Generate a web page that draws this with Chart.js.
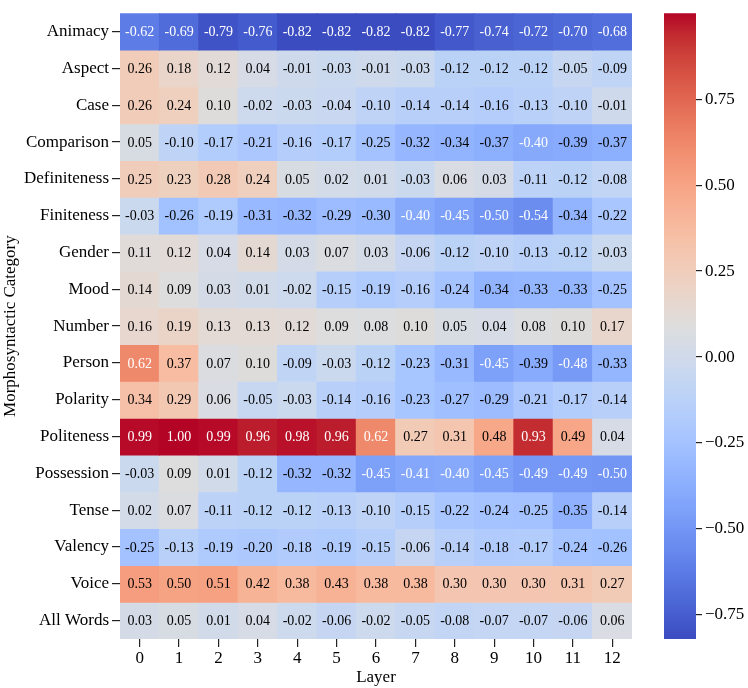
<!DOCTYPE html>
<html>
<head>
<meta charset="utf-8">
<script src="https://cdn.jsdelivr.net/npm/chart.js"></script>
<style>
  html, body { margin: 0; padding: 0; background: #fff; }
  #wrap { position: relative; width: 748px; height: 688px; }
  #heat { position: absolute; left: 0; top: 0; }
  #cbar { position: absolute; left: 640px; top: 0; }
</style>
</head>
<body>
<div id="wrap">
  <canvas id="heat" width="640" height="688"></canvas>
  <canvas id="cbar" width="108" height="688"></canvas>
</div>
<script>
// categories (rows) and layers (columns)
const categories = ['Animacy', 'Aspect', 'Case', 'Comparison', 'Definiteness', 'Finiteness', 'Gender', 'Mood',
  'Number', 'Person', 'Polarity', 'Politeness', 'Possession', 'Tense', 'Valency', 'Voice', 'All Words'];
const layers = ['0', '1', '2', '3', '4', '5', '6', '7', '8', '9', '10', '11', '12'];

// one row of values per category, layer 0..12
const animacy      = [-0.62, -0.69, -0.79, -0.76, -0.82, -0.82, -0.82, -0.82, -0.77, -0.74, -0.72, -0.70, -0.68];
const aspect       = [0.26, 0.18, 0.12, 0.04, -0.01, -0.03, -0.01, -0.03, -0.12, -0.12, -0.12, -0.05, -0.09];
const caseRow      = [0.26, 0.24, 0.10, -0.02, -0.03, -0.04, -0.10, -0.14, -0.14, -0.16, -0.13, -0.10, -0.01];
const comparison   = [0.05, -0.10, -0.17, -0.21, -0.16, -0.17, -0.25, -0.32, -0.34, -0.37, -0.40, -0.39, -0.37];
const definiteness = [0.25, 0.23, 0.28, 0.24, 0.05, 0.02, 0.01, -0.03, 0.06, 0.03, -0.11, -0.12, -0.08];
const finiteness   = [-0.03, -0.26, -0.19, -0.31, -0.32, -0.29, -0.30, -0.40, -0.45, -0.50, -0.54, -0.34, -0.22];
const gender       = [0.11, 0.12, 0.04, 0.14, 0.03, 0.07, 0.03, -0.06, -0.12, -0.10, -0.13, -0.12, -0.03];
const mood         = [0.14, 0.09, 0.03, 0.01, -0.02, -0.15, -0.19, -0.16, -0.24, -0.34, -0.33, -0.33, -0.25];
const number       = [0.16, 0.19, 0.13, 0.13, 0.12, 0.09, 0.08, 0.10, 0.05, 0.04, 0.08, 0.10, 0.17];
const person       = [0.62, 0.37, 0.07, 0.10, -0.09, -0.03, -0.12, -0.23, -0.31, -0.45, -0.39, -0.48, -0.33];
const polarity     = [0.34, 0.29, 0.06, -0.05, -0.03, -0.14, -0.16, -0.23, -0.27, -0.29, -0.21, -0.17, -0.14];
const politeness   = [0.99, 1.00, 0.99, 0.96, 0.98, 0.96, 0.62, 0.27, 0.31, 0.48, 0.93, 0.49, 0.04];
const possession   = [-0.03, 0.09, 0.01, -0.12, -0.32, -0.32, -0.45, -0.41, -0.40, -0.45, -0.49, -0.49, -0.50];
const tense        = [0.02, 0.07, -0.11, -0.12, -0.12, -0.13, -0.10, -0.15, -0.22, -0.24, -0.25, -0.35, -0.14];
const valency      = [-0.25, -0.13, -0.19, -0.20, -0.18, -0.19, -0.15, -0.06, -0.14, -0.18, -0.17, -0.24, -0.26];
const voice        = [0.53, 0.50, 0.51, 0.42, 0.38, 0.43, 0.38, 0.38, 0.30, 0.30, 0.30, 0.31, 0.27];
const allWords     = [0.03, 0.05, 0.01, 0.04, -0.02, -0.06, -0.02, -0.05, -0.08, -0.07, -0.07, -0.06, 0.06];

const rows = [animacy, aspect, caseRow, comparison, definiteness, finiteness, gender, mood,
  number, person, polarity, politeness, possession, tense, valency, voice, allWords];

const colorbarTicks = [-0.75, -0.5, -0.25, 0, 0.25, 0.5, 0.75];

// coolwarm palette (33 stops)
const coolwarm = [
  [59,76,192],[68,90,204],[77,104,215],[87,117,225],[98,130,234],[108,142,241],[119,154,247],[130,165,251],
  [141,176,254],[152,185,255],[163,194,255],[174,201,253],[184,208,249],[194,213,244],[204,217,238],[213,219,230],
  [221,221,221],[229,216,209],[236,211,197],[241,204,185],[245,196,173],[247,187,160],[247,177,148],[247,166,135],
  [244,154,123],[241,141,111],[236,127,99],[229,112,88],[222,96,77],[213,80,66],[203,62,56],[192,40,47],[180,4,38]
];

const allVals = rows.flat();
const vmin = Math.min(...allVals);
const vmax = Math.max(...allVals);

function rgbAt(t) {
  t = Math.max(0, Math.min(1, t)) * (coolwarm.length - 1);
  const i = Math.min(Math.floor(t), coolwarm.length - 2);
  const f = t - i;
  const a = coolwarm[i], b = coolwarm[i + 1];
  return [0, 1, 2].map(k => a[k] + (b[k] - a[k]) * f);
}
function colorFor(v) {
  const c = rgbAt((v - vmin) / (vmax - vmin));
  return 'rgb(' + c.map(Math.round).join(',') + ')';
}
function textColorFor(v) {
  const c = rgbAt((v - vmin) / (vmax - vmin)).map(x => {
    x = x / 255;
    return x <= 0.03928 ? x / 12.92 : Math.pow((x + 0.055) / 1.055, 2.4);
  });
  const lum = 0.2126 * c[0] + 0.7152 * c[1] + 0.0722 * c[2];
  return lum > 0.408 ? '#000' : '#fff';
}

const FONT = "'Liberation Serif', 'Times New Roman', serif";
Chart.defaults.font.family = FONT;
Chart.defaults.color = '#000';

// write the value in each cell
const cellText = {
  id: 'cellText',
  afterDatasetsDraw(chart) {
    const ctx = chart.ctx;
    ctx.save();
    ctx.font = '14px ' + FONT;
    ctx.textAlign = 'center';
    ctx.textBaseline = 'middle';
    chart.data.datasets.forEach((ds, r) => {
      chart.getDatasetMeta(r).data.forEach((bar, c) => {
        const v = rows[r][c];
        ctx.fillStyle = textColorFor(v);
        ctx.fillText(v.toFixed(2), bar.x, (bar.y + bar.base) / 2 + 1);
      });
    });
    ctx.restore();
  }
};

new Chart(document.getElementById('heat'), {
  type: 'bar',
  data: {
    labels: layers,
    datasets: rows.map((vals, r) => ({
      label: categories[r],
      data: vals.map(() => [r, r + 1]),
      backgroundColor: vals.map(colorFor),
      borderWidth: 0,
      inflateAmount: 0.5,
      barPercentage: 1,
      categoryPercentage: 1,
      grouped: false
    }))
  },
  options: {
    responsive: false,
    animation: false,
    layout: { padding: { top: 0, right: 8, left: 0, bottom: 0 } },
    plugins: { legend: { display: false }, tooltip: { enabled: false } },
    scales: {
      x: {
        type: 'category',
        offset: true,
        grid: { offset: false, drawOnChartArea: false, drawTicks: true, tickLength: 8, color: '#222', lineWidth: 1.2 },
        border: { display: false },
        ticks: { font: { size: 17 }, padding: 1, maxRotation: 0 },
        title: { display: true, text: 'Layer', font: { size: 17 }, padding: { top: 0, bottom: 0 } },
        afterFit: s => { s.height = 49; }
      },
      y: {
        type: 'linear',
        min: 0,
        max: categories.length,
        reverse: true,
        afterBuildTicks: s => { s.ticks = categories.map((_, i) => ({ value: i + 0.5 })); },
        grid: { drawOnChartArea: false, drawTicks: true, tickLength: 8, color: '#222', lineWidth: 1.2 },
        border: { display: false },
        ticks: { font: { size: 17 }, padding: 3, autoSkip: false, callback: v => categories[Math.floor(v)] },
        title: { display: true, text: 'Morphosyntactic Category', font: { size: 17 }, padding: { top: 0, bottom: 0 } },
        afterFit: s => { s.width = 120; }
      }
    }
  },
  plugins: [cellText]
});

// colour bar
new Chart(document.getElementById('cbar'), {
  type: 'bar',
  data: {
    labels: [''],
    datasets: [{
      data: [[vmin, vmax]],
      borderWidth: 0,
      barPercentage: 1,
      categoryPercentage: 1,
      backgroundColor: ctx => {
        const area = ctx.chart.chartArea;
        if (!area) return '#ddd';
        const g = ctx.chart.ctx.createLinearGradient(0, area.bottom, 0, area.top);
        coolwarm.forEach((c, i) => g.addColorStop(i / (coolwarm.length - 1), 'rgb(' + c.join(',') + ')'));
        return g;
      }
    }]
  },
  options: {
    responsive: false,
    animation: false,
    layout: { padding: { top: 0, right: 0, left: 24, bottom: 49 } },
    plugins: { legend: { display: false }, tooltip: { enabled: false } },
    scales: {
      x: { display: false },
      y: {
        position: 'right',
        min: vmin,
        max: vmax,
        afterBuildTicks: s => { s.ticks = colorbarTicks.map(v => ({ value: v })); },
        grid: { drawOnChartArea: false, drawTicks: true, tickLength: 6, color: '#222', lineWidth: 1.2 },
        border: { display: false },
        ticks: {
          font: { size: 17 }, padding: 3,
          callback: v => (v < 0 ? '\u2212' : '') + Math.abs(v).toFixed(2)
        },
        afterFit: s => { s.width = 52; }
      }
    }
  }
});
</script>
</body>
</html>
